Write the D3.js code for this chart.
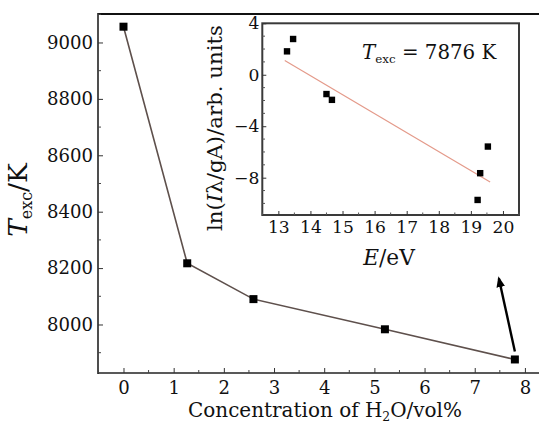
<!DOCTYPE html>
<html>
<head>
<meta charset="utf-8">
<script src="https://cdn.jsdelivr.net/npm/d3@7"></script>
<style>
  html, body { margin: 0; padding: 0; background: #fff; }
  svg { display: block; }
  svg text { font-family: "DejaVu Serif", serif; fill: #111; }
</style>
</head>
<body>
<svg id="chart" width="539" height="428"></svg>
<script>
// Main series: excitation temperature vs water concentration
const concentration = [0, 1.27, 2.59, 5.21, 7.80];
const texc = [9056, 8217, 8090, 7983, 7876];
const mainXTicks = [0, 1, 2, 3, 4, 5, 6, 7, 8];
const mainYTicks = [8000, 8200, 8400, 8600, 8800, 9000];

// Inset: Boltzmann plot of the lines used for the 7.8 vol% point
const energy = [13.27, 13.46, 14.50, 14.67, 19.53, 19.29, 19.21];
const lnIntensity = [1.82, 2.78, -1.50, -1.95, -5.58, -7.65, -9.73];
const insetXTicks = [13, 14, 15, 16, 17, 18, 19, 20];
const insetYTicks = [4, 0, -4, -8];
const fitTemperature = 7876;      // K
const fitIntercept = 20.55;
const fitRange = [13.2, 19.6];    // eV
const boltzmannK = 8.617e-5;      // eV/K

const svg = d3.select("#chart");

// scale a text's font-size so that its rendered width equals `width`
function fitWidth(sel, width) {
  const node = sel.node();
  const fs = parseFloat(sel.attr("font-size"));
  const w = node.getBBox().width;
  if (w > 0) sel.attr("font-size", fs * width / w);
  return sel;
}

// ---------- main plot ----------
const x = d3.scaleLinear().domain([-0.5, 8.5]).range([98.4, 550]);
const y = d3.scaleLinear().domain([7828, 9101]).range([373, 14]);

const main = svg.append("g");

// frame (runs past the right edge of the canvas)
main.append("line").attr("x1", 98).attr("x2", 560).attr("y1", 14).attr("y2", 14)
  .attr("stroke", "#111").attr("stroke-width", 2);
main.append("line").attr("x1", 98).attr("x2", 560).attr("y1", 373).attr("y2", 373)
  .attr("stroke", "#222").attr("stroke-width", 1.6);
main.append("line").attr("x1", 98).attr("x2", 98).attr("y1", 13).attr("y2", 374)
  .attr("stroke", "#222").attr("stroke-width", 1.6);

// inward ticks on the left axis
const yAxis = d3.axisLeft(y).tickValues(mainYTicks).tickSize(-5).tickPadding(5)
  .tickFormat(d3.format("d"));
const gy = main.append("g").attr("transform", "translate(98,0)").call(yAxis);
gy.select(".domain").remove();
gy.selectAll(".tick line").attr("stroke", "#333");
gy.selectAll(".tick text").attr("font-size", 19).attr("fill", "#111");
// size the tick font from the widest label
const tickFs = parseFloat(fitWidth(gy.select(".tick:last-of-type text"), 46).attr("font-size"));
gy.selectAll(".tick text").attr("font-size", tickFs);
main.append("g").selectAll("line")
  .data(d3.range(7900, 9101, 200))
  .join("line")
  .attr("x1", 98).attr("x2", 101)
  .attr("y1", d => y(d)).attr("y2", d => y(d)).attr("stroke", "#444");

// inward ticks on the bottom axis
const xAxis = d3.axisBottom(x).tickValues(mainXTicks).tickSize(-5).tickPadding(10)
  .tickFormat(d3.format("d"));
const gx = main.append("g").attr("transform", "translate(0,373)").call(xAxis);
gx.select(".domain").remove();
gx.selectAll(".tick line").attr("stroke", "#333");
gx.selectAll(".tick text").attr("font-size", tickFs).attr("dy", "0.62em").attr("fill", "#111");
main.append("g").selectAll("line")
  .data(d3.range(-0.5, 8.6, 1))
  .join("line")
  .attr("x1", d => x(d)).attr("x2", d => x(d))
  .attr("y1", 373).attr("y2", 370).attr("stroke", "#444");

// data line and square markers
const pts = concentration.map((c, i) => [c, texc[i]]);
main.append("path")
  .datum(pts)
  .attr("fill", "none")
  .attr("stroke", "#5e504c")
  .attr("stroke-width", 1.6)
  .attr("d", d3.line().x(d => x(d[0])).y(d => y(d[1])));
main.append("g").selectAll("rect")
  .data(pts)
  .join("rect")
  .attr("x", d => x(d[0]) - 4).attr("y", d => y(d[1]) - 4)
  .attr("width", 8).attr("height", 8).attr("fill", "#000");

// arrow pointing from the last point up to the inset
const defs = svg.append("defs");
defs.append("marker")
  .attr("id", "head")
  .attr("viewBox", "0 0 10 10")
  .attr("refX", 8).attr("refY", 5)
  .attr("markerWidth", 4.5).attr("markerHeight", 4.5)
  .attr("orient", "auto")
  .append("path").attr("d", "M0,1 L10,5 L0,9 Z").attr("fill", "#000");
const last = pts[pts.length - 1];
main.append("line")
  .attr("x1", x(last[0])).attr("y1", y(last[1]) - 8)
  .attr("x2", x(last[0]) - 16).attr("y2", y(last[1]) - 81)
  .attr("stroke", "#000").attr("stroke-width", 2.4)
  .attr("marker-end", "url(#head)");

// axis titles
const yTitle = main.append("text")
  .attr("transform", "translate(27,200) rotate(-90)")
  .attr("text-anchor", "middle")
  .attr("font-size", 20);
yTitle.append("tspan").attr("font-style", "italic").text("T");
yTitle.append("tspan").attr("font-size", "0.6em").attr("dy", "0.3em").text("exc");
yTitle.append("tspan").attr("dy", "-0.18em").text("/K");
fitWidth(yTitle, 75);

const xTitle = main.append("text")
  .attr("x", 325).attr("y", 417)
  .attr("text-anchor", "middle")
  .attr("font-size", 19);
xTitle.append("tspan").text("Concentration of H");
xTitle.append("tspan").attr("font-size", "0.62em").attr("dy", "0.3em").text("2");
xTitle.append("tspan").attr("dy", "-0.19em").text("O/vol%");
fitWidth(xTitle, 274);

// ---------- inset ----------
const ix = d3.scaleLinear().domain([12.5, 20.5]).range([262.3, 519]);
const iy = d3.scaleLinear().domain([-10.9, 4]).range([215, 23.3]);
const insetFs = tickFs * 0.95;

const inset = svg.append("g");
inset.append("rect")
  .attr("x", 262.3).attr("y", 23.3)
  .attr("width", 519 - 262.3).attr("height", 215 - 23.3)
  .attr("fill", "#fff").attr("stroke", "#3a3a3a").attr("stroke-width", 2);

const ixAxis = d3.axisBottom(ix).tickValues(insetXTicks).tickSize(-4).tickPadding(6)
  .tickFormat(d3.format("d"));
const gix = inset.append("g").attr("transform", "translate(0,215)").call(ixAxis);
gix.select(".domain").remove();
gix.selectAll(".tick line").attr("stroke", "#333");
gix.selectAll(".tick text").attr("font-size", insetFs).attr("fill", "#111");
inset.append("g").selectAll("line")
  .data(d3.range(12.5, 20.6, 1))
  .join("line")
  .attr("x1", d => ix(d)).attr("x2", d => ix(d))
  .attr("y1", 215).attr("y2", 212.5).attr("stroke", "#555");

const iyAxis = d3.axisLeft(iy).tickValues(insetYTicks).tickSize(-4).tickPadding(3)
  .tickFormat(d => d < 0 ? "\u2212" + Math.abs(d) : d);
const giy = inset.append("g").attr("transform", "translate(262.3,0)").call(iyAxis);
giy.select(".domain").remove();
giy.selectAll(".tick line").attr("stroke", "#333");
giy.selectAll(".tick text").attr("font-size", insetFs).attr("fill", "#111");
inset.append("g").selectAll("line")
  .data(d3.range(-10, 4, 1).filter(v => v % 4 !== 0))
  .join("line")
  .attr("x1", 262.3).attr("x2", 265)
  .attr("y1", d => iy(d)).attr("y2", d => iy(d)).attr("stroke", "#555");

// Boltzmann fit: slope = -1/(k T)
const slope = -1 / (boltzmannK * fitTemperature);
inset.append("line")
  .attr("x1", ix(fitRange[0])).attr("y1", iy(fitIntercept + slope * fitRange[0]))
  .attr("x2", ix(fitRange[1])).attr("y2", iy(fitIntercept + slope * fitRange[1]))
  .attr("stroke", "#e49a8a").attr("stroke-width", 1.2);

inset.append("g").selectAll("rect")
  .data(energy.map((e, i) => [e, lnIntensity[i]]))
  .join("rect")
  .attr("x", d => ix(d[0]) - 3.2).attr("y", d => iy(d[1]) - 3.2)
  .attr("width", 6.4).attr("height", 6.4).attr("fill", "#000");

const tLabel = inset.append("text")
  .attr("x", 362).attr("y", 59)
  .attr("font-size", 18);
tLabel.append("tspan").attr("font-style", "italic").text("T");
tLabel.append("tspan").attr("font-size", "0.6em").attr("dy", "0.3em").text("exc");
tLabel.append("tspan").attr("dy", "-0.18em").text(" = " + fitTemperature + " K");
fitWidth(tLabel, 135);

const iyTitle = inset.append("text")
  .attr("transform", "translate(222,128) rotate(-90)")
  .attr("text-anchor", "middle")
  .attr("font-size", 18);
iyTitle.append("tspan").text("ln(");
iyTitle.append("tspan").attr("font-style", "italic").text("I");
iyTitle.append("tspan").text("\u03bb/gA)/arb. units");
fitWidth(iyTitle, 206);

const ixTitle = inset.append("text")
  .attr("x", 389).attr("y", 265)
  .attr("text-anchor", "middle")
  .attr("font-size", 18);
ixTitle.append("tspan").attr("font-style", "italic").text("E");
ixTitle.append("tspan").text("/eV");
fitWidth(ixTitle, 54);
</script>
</body>
</html>
